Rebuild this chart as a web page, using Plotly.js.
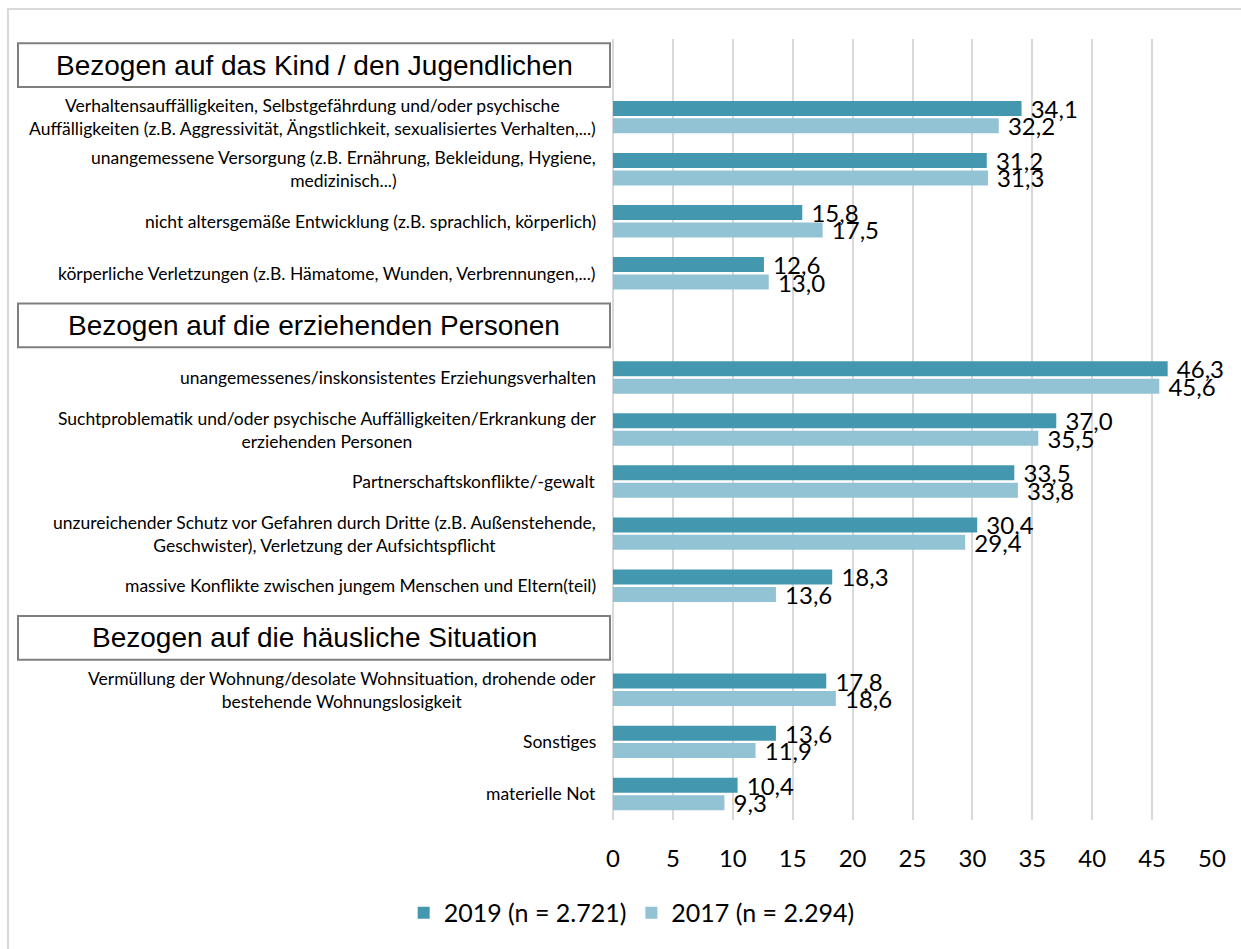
<!DOCTYPE html>
<html>
<head>
<meta charset="utf-8">
<script src="https://cdn.plot.ly/plotly-3.0.1.min.js"></script>
<style>html,body{margin:0;padding:0;background:#fff;}#chart{width:1241px;height:949px;}</style>
</head>
<body>
<div id="chart"></div>
<script>
// ---- data ----
const headers = [
  "Bezogen auf das Kind / den Jugendlichen",
  "Bezogen auf die erziehenden Personen",
  "Bezogen auf die häusliche Situation"
];
const groupKind = [
  "Verhaltensauffälligkeiten, Selbstgefährdung und/oder psychische<br>Auffälligkeiten (z.B. Aggressivität, Ängstlichkeit, sexualisiertes Verhalten,...)",
  "unangemessene Versorgung (z.B. Ernährung, Bekleidung, Hygiene,<br>medizinisch...)",
  "nicht altersgemäße Entwicklung (z.B. sprachlich, körperlich)",
  "körperliche Verletzungen (z.B. Hämatome, Wunden, Verbrennungen,...)"
];
const groupEltern = [
  "unangemessenes/inskonsistentes Erziehungsverhalten",
  "Suchtproblematik und/oder psychische Auffälligkeiten/Erkrankung der<br>erziehenden Personen",
  "Partnerschaftskonflikte/-gewalt",
  "unzureichender Schutz vor Gefahren durch Dritte (z.B. Außenstehende,<br>Geschwister), Verletzung der Aufsichtspflicht",
  "massive Konflikte zwischen jungem Menschen und Eltern(teil)"
];
const groupHaus = [
  "Vermüllung der Wohnung/desolate Wohnsituation, drohende oder<br>bestehende Wohnungslosigkeit",
  "Sonstiges",
  "materielle Not"
];
const categories = groupKind.concat(groupEltern, groupHaus);
const values2019 = [34.1, 31.2, 15.8, 12.6, 46.3, 37.0, 33.5, 30.4, 18.3, 17.8, 13.6, 10.4];
const values2017 = [32.2, 31.3, 17.5, 13.0, 45.6, 35.5, 33.8, 29.4, 13.6, 18.6, 11.9, 9.3];
const seriesNames = ["2019 (n = 2.721)", "2017 (n = 2.294)"];
const xTicks = [0, 5, 10, 15, 20, 25, 30, 35, 40, 45, 50];

// ---- layout helpers ----
const categoryOrder = [headers[0]].concat(groupKind, [headers[1]], groupEltern, [headers[2]], groupHaus);
const W = 1241, H = 949;
const mL = 613, mR = 29, mT = 39, mB = 129;
const plotW = W - mL - mR, plotH = H - mT - mB;
const px2x = p => (p - mL) / plotW;
const py2y = p => (H - mB - p) / plotH;

const textFont = {family: "Lato, 'Open Sans', sans-serif", color: "#000"};

const traces = [
  {type: "bar", orientation: "h", name: seriesNames[0], y: categories, x: values2019,
   marker: {color: "#4398b0"}, texttemplate: "\u00a0%{x:.1f}", textposition: "outside",
   textfont: Object.assign({size: 24}, textFont), cliponaxis: false, constraintext: "none",
   hoverinfo: "x+y"},
  {type: "bar", orientation: "h", name: seriesNames[1], y: categories, x: values2017,
   marker: {color: "#92c3d5"}, texttemplate: "\u00a0%{x:.1f}", textposition: "outside",
   textfont: Object.assign({size: 24}, textFont), cliponaxis: false, constraintext: "none",
   hoverinfo: "x+y"}
];

const shapes = [];
const annotations = [];
// outer frame
shapes.push({type: "rect", xref: "paper", yref: "paper",
  x0: px2x(8), x1: px2x(1260), y0: py2y(9), y1: py2y(970),
  line: {color: "#d9d9d9", width: 2}, fillcolor: "rgba(0,0,0,0)", layer: "below"});
headers.forEach(h => {
  const idx = categoryOrder.indexOf(h);
  shapes.push({type: "rect", xref: "paper", yref: "y",
    x0: px2x(18), x1: px2x(610), y0: idx - 0.42, y1: idx + 0.42,
    line: {color: "#7f7f7f", width: 2}, fillcolor: "#fff"});
  annotations.push({xref: "paper", yref: "y", x: px2x(314), y: idx, text: h,
    showarrow: false, xanchor: "center", yanchor: "middle",
    font: {family: "'Liberation Sans', Arial, sans-serif", size: 28, color: "#000"}});
});
categories.forEach(c => {
  annotations.push({xref: "paper", yref: "y", x: px2x(598), y: c, text: c,
    showarrow: false, xanchor: "right", yanchor: "middle", align: "center",
    font: Object.assign({size: 17.5}, textFont)});
});

const layout = {
  width: W, height: H,
  margin: {l: mL, r: mR, t: mT, b: mB, pad: 0},
  paper_bgcolor: "#fff", plot_bgcolor: "#fff",
  separators: ",.",
  barmode: "group", bargap: 0.33, bargroupgap: 0.14,
  showlegend: true,
  legend: {orientation: "h", xref: "container", yref: "container", x: 0.509, y: 0.038,
    xanchor: "center", yanchor: "middle", traceorder: "normal",
    font: Object.assign({size: 25}, textFont)},
  xaxis: {range: [0, 50], tickvals: xTicks, ticktext: xTicks.map(String),
    showgrid: true, gridcolor: "#d9d9d9", gridwidth: 2,
    zeroline: true, zerolinecolor: "#d9d9d9", zerolinewidth: 2,
    showline: false, ticks: "", ticklabelstandoff: 22,
    tickfont: Object.assign({size: 24}, textFont), fixedrange: true},
  yaxis: {type: "category", categoryorder: "array", categoryarray: categoryOrder,
    range: [categoryOrder.length - 0.5, -0.5],
    showticklabels: false, showgrid: false, zeroline: false, showline: false, ticks: "",
    fixedrange: true},
  shapes: shapes,
  annotations: annotations
};

Plotly.newPlot("chart", traces, layout, {displayModeBar: false, responsive: false});
</script>
</body>
</html>
